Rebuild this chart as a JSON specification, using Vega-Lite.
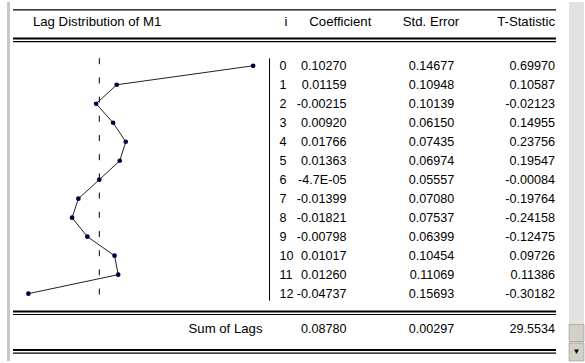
{
  "$schema": "https://vega.github.io/schema/vega-lite/v6.json",
  "width": 585,
  "height": 363,
  "padding": 0,
  "autosize": {"type": "fit", "contains": "padding"},
  "background": "white",
  "config": {
    "view": {"stroke": null},
    "locale": {"number": {"decimal": ".", "thousands": ",", "grouping": [3], "currency": ["$", ""], "minus": "-"}},
    "text": {"font": "Liberation Sans", "fontSize": 12.6, "color": "#000", "baseline": "middle"}
  },
  "datasets": {
    "lags": [
      {"i": 0, "coef": 0.1027, "coef_txt": "0.10270", "se": 0.14677, "t": 0.6997},
      {"i": 1, "coef": 0.01159, "coef_txt": "0.01159", "se": 0.10948, "t": 0.10587},
      {"i": 2, "coef": -0.00215, "coef_txt": "-0.00215", "se": 0.10139, "t": -0.02123},
      {"i": 3, "coef": 0.0092, "coef_txt": "0.00920", "se": 0.0615, "t": 0.14955},
      {"i": 4, "coef": 0.01766, "coef_txt": "0.01766", "se": 0.07435, "t": 0.23756},
      {"i": 5, "coef": 0.01363, "coef_txt": "0.01363", "se": 0.06974, "t": 0.19547},
      {"i": 6, "coef": -0.000047, "coef_txt": "-4.7E-05", "se": 0.05557, "t": -0.00084},
      {"i": 7, "coef": -0.01399, "coef_txt": "-0.01399", "se": 0.0708, "t": -0.19764},
      {"i": 8, "coef": -0.01821, "coef_txt": "-0.01821", "se": 0.07537, "t": -0.24158},
      {"i": 9, "coef": -0.00798, "coef_txt": "-0.00798", "se": 0.06399, "t": -0.12475},
      {"i": 10, "coef": 0.01017, "coef_txt": "0.01017", "se": 0.10454, "t": 0.09726},
      {"i": 11, "coef": 0.0126, "coef_txt": "0.01260", "se": 0.11069, "t": 0.11386},
      {"i": 12, "coef": -0.04737, "coef_txt": "-0.04737", "se": 0.15693, "t": -0.30182}
    ],
    "sum": [
      {"label": "Sum of Lags", "coef": 0.0878, "se": 0.00297, "t": 29.5534}
    ],
    "one": [{}]
  },
  "data": {"name": "one"},
  "encoding": {
    "x": {"type": "quantitative", "scale": {"domain": [-0.0663333, 0.3236667], "nice": false, "zero": false}, "axis": null},
    "y": {"type": "quantitative", "scale": {"domain": [-3.359375, 15.546875], "nice": false, "zero": false, "reverse": true}, "axis": null}
  },
  "layer": [
    {
      "mark": {"type": "rect", "color": "#e2e2e2"},
      "encoding": {"x": {"datum": 0.3136667}, "x2": {"datum": 0.3236667}, "y": {"datum": -3.359375}, "y2": {"datum": 15.546875}}
    },
    {
      "mark": {"type": "rect", "color": "#d4d0c8", "stroke": "#808080", "strokeWidth": 0.5},
      "encoding": {"x": {"datum": 0.3136667}, "x2": {"datum": 0.3236667}, "y": {"datum": 13.63}, "y2": {"datum": 14.52}}
    },
    {
      "mark": {"type": "rect", "color": "#d4d0c8", "stroke": "#808080", "strokeWidth": 0.5},
      "encoding": {"x": {"datum": 0.3136667}, "x2": {"datum": 0.3236667}, "y": {"datum": 14.6}, "y2": {"datum": 15.546875}}
    },
    {
      "mark": {"type": "text", "text": "▼", "fontSize": 8, "color": "#000"},
      "encoding": {"x": {"datum": 0.3186667}, "y": {"datum": 15.08}}
    },
    {
      "mark": {"type": "rule", "color": "#c8c8c8", "strokeWidth": 3},
      "encoding": {"x": {"datum": -0.0606667}, "y": {"datum": -3.359375}, "y2": {"datum": 15.546875}}
    },
    {
      "mark": {"type": "rule", "color": "#000", "strokeWidth": 1.2},
      "encoding": {"x": {"datum": -0.0576667}, "x2": {"datum": 0.305}, "y": {"datum": -2.943}}
    },
    {
      "mark": {"type": "rule", "color": "#000", "strokeWidth": 2},
      "encoding": {"x": {"datum": -0.0576667}, "x2": {"datum": 0.305}, "y": {"datum": -1.432}}
    },
    {
      "mark": {"type": "rule", "color": "#000", "strokeWidth": 1.2},
      "encoding": {"x": {"datum": -0.0576667}, "x2": {"datum": 0.305}, "y": {"datum": -1.276}}
    },
    {
      "mark": {"type": "rule", "color": "#000", "strokeWidth": 2},
      "encoding": {"x": {"datum": -0.0576667}, "x2": {"datum": 0.305}, "y": {"datum": 12.943}}
    },
    {
      "mark": {"type": "rule", "color": "#000", "strokeWidth": 1.2},
      "encoding": {"x": {"datum": -0.0576667}, "x2": {"datum": 0.305}, "y": {"datum": 13.099}}
    },
    {
      "mark": {"type": "rule", "color": "#000", "strokeWidth": 2},
      "encoding": {"x": {"datum": -0.0576667}, "x2": {"datum": 0.305}, "y": {"datum": 14.974}}
    },
    {
      "mark": {"type": "rule", "color": "#000", "strokeWidth": 1.2},
      "encoding": {"x": {"datum": -0.0576667}, "x2": {"datum": 0.305}, "y": {"datum": 15.13}}
    },
    {
      "mark": {"type": "rule", "color": "#000", "strokeWidth": 1},
      "encoding": {"x": {"datum": 0.1136667}, "y": {"datum": -0.391}, "y2": {"datum": 12.37}}
    },
    {
      "mark": {"type": "rule", "color": "#000", "strokeWidth": 1, "strokeDash": [6, 13.2], "strokeDashOffset": 0},
      "encoding": {"x": {"datum": 0}, "y": {"datum": -0.4}, "y2": {"datum": 12.3}}
    },
    {
      "data": {"name": "lags"},
      "mark": {"type": "line", "color": "#222", "strokeWidth": 1},
      "encoding": {"x": {"field": "coef"}, "y": {"field": "i"}, "order": {"field": "i"}}
    },
    {
      "data": {"name": "lags"},
      "mark": {"type": "point", "filled": true, "color": "#000040", "size": 22, "opacity": 1},
      "encoding": {"x": {"field": "coef"}, "y": {"field": "i"}}
    },
    {
      "data": {"name": "lags"},
      "mark": {"type": "text", "align": "left"},
      "encoding": {"x": {"datum": 0.1203333}, "y": {"field": "i"}, "text": {"field": "i", "type": "quantitative"}}
    },
    {
      "data": {"name": "lags"},
      "mark": {"type": "text", "align": "right"},
      "encoding": {"x": {"datum": 0.165}, "y": {"field": "i"}, "text": {"field": "coef_txt"}}
    },
    {
      "data": {"name": "lags"},
      "mark": {"type": "text", "align": "right"},
      "encoding": {"x": {"datum": 0.237}, "y": {"field": "i"}, "text": {"field": "se", "type": "quantitative", "format": ".5f"}}
    },
    {
      "data": {"name": "lags"},
      "mark": {"type": "text", "align": "right"},
      "encoding": {"x": {"datum": 0.3043333}, "y": {"field": "i"}, "text": {"field": "t", "type": "quantitative", "format": ".5f"}}
    },
    {
      "data": {"name": "sum"},
      "mark": {"type": "text", "align": "right", "fontSize": 13.2},
      "encoding": {"x": {"datum": 0.109}, "y": {"datum": 13.88}, "text": {"field": "label"}}
    },
    {
      "data": {"name": "sum"},
      "mark": {"type": "text", "align": "right"},
      "encoding": {"x": {"datum": 0.165}, "y": {"datum": 13.88}, "text": {"field": "coef", "type": "quantitative", "format": ".5f"}}
    },
    {
      "data": {"name": "sum"},
      "mark": {"type": "text", "align": "right"},
      "encoding": {"x": {"datum": 0.237}, "y": {"datum": 13.88}, "text": {"field": "se", "type": "quantitative", "format": ".5f"}}
    },
    {
      "data": {"name": "sum"},
      "mark": {"type": "text", "align": "right"},
      "encoding": {"x": {"datum": 0.3043333}, "y": {"datum": 13.88}, "text": {"field": "t", "type": "quantitative", "format": ".4f"}}
    },
    {
      "mark": {"type": "text", "align": "left", "text": "Lag Distribution of M1", "fontSize": 13.2},
      "encoding": {"x": {"datum": -0.0443333}, "y": {"datum": -2.318}}
    },
    {
      "mark": {"type": "text", "align": "center", "text": "i", "fontSize": 13.2},
      "encoding": {"x": {"datum": 0.1246667}, "y": {"datum": -2.318}}
    },
    {
      "mark": {"type": "text", "align": "right", "text": "Coefficient", "fontSize": 13.2},
      "encoding": {"x": {"datum": 0.1816667}, "y": {"datum": -2.318}}
    },
    {
      "mark": {"type": "text", "align": "right", "text": "Std. Error", "fontSize": 13.2},
      "encoding": {"x": {"datum": 0.2403333}, "y": {"datum": -2.318}}
    },
    {
      "mark": {"type": "text", "align": "right", "text": "T-Statistic", "fontSize": 13.2},
      "encoding": {"x": {"datum": 0.3043333}, "y": {"datum": -2.318}}
    }
  ]
}
